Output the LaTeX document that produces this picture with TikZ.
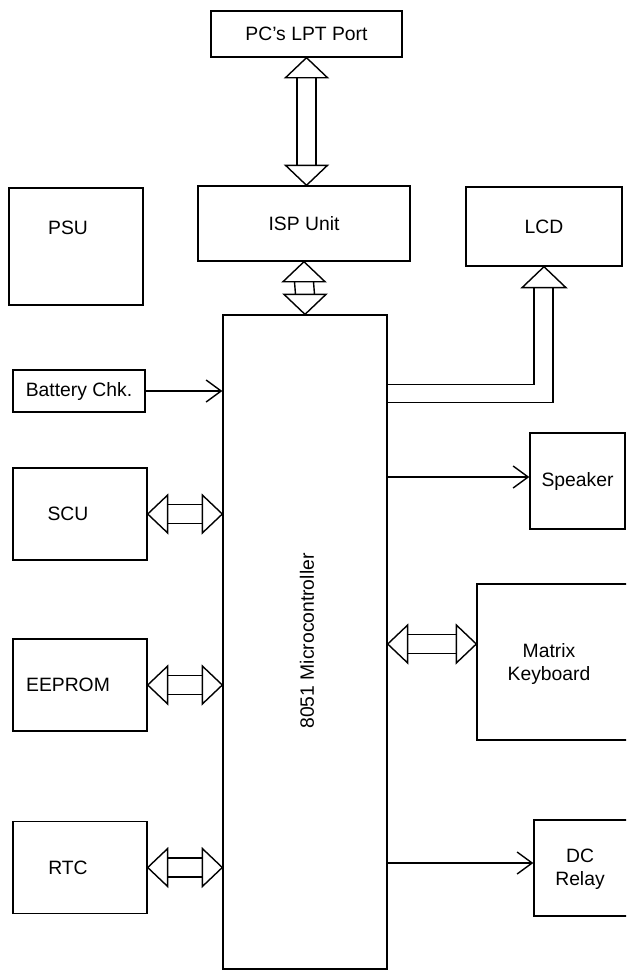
\documentclass[tikz,border=0pt]{standalone}
\usepackage{fontspec}
\setmainfont{Liberation Sans}
\usetikzlibrary{positioning, calc, arrows.meta}

\tikzset{
  blk/.style={draw, line width=0.8pt, inner sep=0pt},
  lbox/.style={blk, minimum width=2.68cm, minimum height=1.84cm},
  sig/.style={line width=0.8pt, -{Straight Barb[length=0.3cm,width=0.44cm]}},
  bus/.style={line width=0.8pt, line join=miter},
}

% hollow bus arrow, left tip #1, right tip #2
\newcommand{\hbus}[2]{
  \draw[bus] (#1) -- ($(#1)+(20,-19)$) -- ($(#1)+(20,19)$) -- cycle;
  \draw[bus] (#2) -- ($(#2)+(-20,-19)$) -- ($(#2)+(-20,19)$) -- cycle;
  \draw[bus] ($(#1)+(20,-9.5)$) -- ($(#2)+(-20,-9.5)$);
  \draw[bus] ($(#1)+(20,9.5)$) -- ($(#2)+(-20,9.5)$);
}
% hollow bus arrow, top tip #1, bottom tip #2
\newcommand{\vbus}[2]{
  \draw[bus] (#1) -- ($(#1)+(-21,20)$) -- ($(#1)+(21,20)$) -- cycle;
  \draw[bus] (#2) -- ($(#2)+(-21,-20)$) -- ($(#2)+(21,-20)$) -- cycle;
  \draw[bus] ($(#1)+(-9.5,20)$) -- ($(#2)+(-9.5,-20)$);
  \draw[bus] ($(#1)+(9.5,20)$) -- ($(#2)+(9.5,-20)$);
}

\begin{document}
\begin{tikzpicture}[x=0.02cm, y=-0.02cm, font=\fontsize{11}{13}\selectfont]
  \clip (0,0) rectangle (626,971);

  % top row
  \node[blk, minimum width=3.82cm, minimum height=0.92cm] (lpt) at (306.5,34) {PC's LPT Port};
  \node[blk, minimum width=4.24cm, minimum height=1.5cm] (isp) at (304,223.5) {ISP Unit};
  \node[blk, minimum width=2.68cm, minimum height=2.34cm] (psu) at (76,246.5) {};
  \node (psutxt) at ($(psu.north)+(-8,41)$) {PSU};
  \node[blk, minimum width=3.12cm, minimum height=1.58cm] (lcd) at (544,226.5) {LCD};

  % controller
  \node[blk, minimum width=3.28cm, minimum height=13.08cm] (mcu) at (305,642) {};
  \node[rotate=90] (mcutxt) at (307,641) {8051 Microcontroller};

  \coordinate (ispbus) at (lpt.south |- isp.north);
  \vbus{lpt.south}{ispbus}
  \vbus{isp.south}{mcu.north}

  % lcd bus
  \draw[bus] (lcd.south) -- ($(lcd.south)+(-22,21)$) -- ($(lcd.south)+(22,21)$) -- cycle;
  \draw[bus] ($(lcd.south)+(-10,21)$) |- ($(mcu.north east)+(0,70)$);
  \draw[bus] ($(lcd.south)+(9,21)$) |- ($(mcu.north east)+(0,88)$);

  % left side
  \node[blk, minimum width=2.64cm, minimum height=0.84cm] (bat) at (79,391) {Battery Chk.};
  \draw[sig] (bat.east) -- (mcu.west |- bat.east);

  \foreach \n/\t/\y in {scu/SCU/514, eeprom/EEPROM/685, rtc/RTC/867.5} {
    \node[lbox] (\n) at (80,\y) {};
    \node (\n txt) at ($(\n.center)+(-12,0)$) {\t};
    \coordinate (\n bus) at (mcu.west |- \n.east);
    \hbus{\n.east}{\n bus}
  }

  % right side
  \node[blk, minimum width=1.9cm, minimum height=1.92cm] (spk) at (577.5,481) {Speaker};
  \draw[sig] ($(mcu.east |- spk.west)+(0,-4)$) -- ($(spk.west)+(0,-4)$);

  \node[blk, minimum width=3.26cm, minimum height=3.12cm] (kbd) at (558.5,662) {};
  \node[align=center] (kbdtxt) at (549,664) {Matrix\\Keyboard};
  \coordinate (kbdR) at ($(kbd.west)+(0,-18)$);
  \coordinate (kbdL) at (mcu.east |- kbdR);
  \hbus{kbdL}{kbdR}

  \node[blk, minimum width=2.12cm, minimum height=1.92cm] (relay) at (587,868) {};
  \node[align=center] (relaytxt) at (580,869) {DC\\Relay};
  \draw[sig] ($(mcu.east |- relay.west)+(0,-5)$) -- ($(relay.west)+(0,-5)$);
\end{tikzpicture}
\end{document}
